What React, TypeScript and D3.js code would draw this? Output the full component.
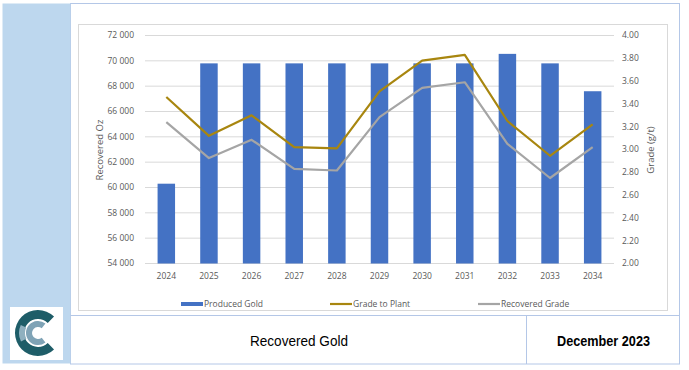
import React from 'react';
import * as d3 from 'd3';

const years = ['2024', '2025', '2026', '2027', '2028', '2029', '2030', '2031', '2032', '2033', '2034'];
const producedGold = [60300, 69800, 69800, 69800, 69800, 69800, 69800, 69800, 70550, 69800, 67600];
const gradeToPlant = [3.46, 3.12, 3.3, 3.02, 3.01, 3.51, 3.78, 3.83, 3.25, 2.945, 3.22];
const recoveredGrade = [3.24, 2.925, 3.085, 2.83, 2.816, 3.284, 3.54, 3.59, 3.05, 2.75, 3.02];
const ozTicks = [54000, 56000, 58000, 60000, 62000, 64000, 66000, 68000, 70000, 72000];
const gradeTicks = [2.0, 2.2, 2.4, 2.6, 2.8, 3.0, 3.2, 3.4, 3.6, 3.8, 4.0];

const BAR = '#4472c4';
const GOLD = '#a8860f';
const GREY = '#a5a5a5';
const TXT = '#595959';
const chartFont = '"Open Sans", "Liberation Sans", sans-serif';
const footFont = '"Liberation Sans", Arial, sans-serif';

const plot = {left: 145, right: 614, top: 35.5, bottom: 263.5};

const ozFmt = (v: number) => d3.format(',')(v).replace(/,/g, ' ');
const gradeFmt = d3.format('.2f');

const Logo = () => {
  const q = Math.PI / 2;
  const outer = d3.arc()({innerRadius: 14, outerRadius: 23, startAngle: q + 0.8, endAngle: q + 2 * Math.PI - 0.8}) as string;
  const wedge = d3.arc()({innerRadius: 13, outerRadius: 19, startAngle: 4.25, endAngle: 5.15}) as string;
  const inner = d3.arc()({innerRadius: 6, outerRadius: 12, startAngle: q + 0.9, endAngle: q + 2 * Math.PI - 0.9}) as string;
  return (
    <g>
      <rect x={10} y={307} width={53} height={53} fill="#fff" />
      <g transform="translate(38,333)">
        <path d={outer} fill="#1e5d68" />
        <path d={wedge} fill="#8fb0bf" />
        <path d={inner} fill="#7fa3b6" />
      </g>
    </g>
  );
};

export default function App() {
  const x = d3
    .scaleBand()
    .domain(years)
    .range([plot.left, plot.right])
    .paddingInner(0.59)
    .paddingOuter(0.295);
  const yOz = d3.scaleLinear().domain([54000, 72000]).range([plot.bottom, plot.top]);
  const yGrade = d3.scaleLinear().domain([2, 4]).range([plot.bottom, plot.top]);
  const cxOf = (i: number) => (x(years[i]) as number) + x.bandwidth() / 2;

  const line = (vals: number[]) =>
    d3
      .line<number>()
      .x((_, i) => cxOf(i))
      .y(v => yGrade(v))(vals) as string;

  return (
    <svg width={689} height={370} style={{position: 'absolute', left: 0, top: 0, background: '#fff'}}>
      <rect x={70.5} y={3.5} width={609} height={360.5} fill="#fff" stroke="#b4c7e7" strokeWidth={1} />
      <rect x={2.5} y={3.5} width={68} height={360} fill="#bdd7ee" />
      <line x1={70.5} x2={679.5} y1={315.5} y2={315.5} stroke="#b4c7e7" />
      <line x1={526.5} x2={526.5} y1={315.5} y2={364} stroke="#b4c7e7" />
      <rect x={78.5} y={24.5} width={589} height={286} fill="#fff" stroke="#d9d9d9" />

      {ozTicks.map(t => (
        <g key={t}>
          <line x1={plot.left} x2={plot.right} y1={yOz(t)} y2={yOz(t)} stroke="#d9d9d9" strokeWidth={1} />
          <text x={134} y={yOz(t)} dy="0.35em" textAnchor="end" fontSize={8.5} fill={TXT} fontFamily={chartFont}>
            {ozFmt(t)}
          </text>
        </g>
      ))}
      {gradeTicks.map(t => (
        <text key={t} x={622} y={yGrade(t)} dy="0.35em" fontSize={8.5} fill={TXT} fontFamily={chartFont}>
          {gradeFmt(t)}
        </text>
      ))}

      {producedGold.map((v, i) => (
        <rect
          key={years[i]}
          x={x(years[i])}
          y={yOz(v)}
          width={x.bandwidth()}
          height={plot.bottom - yOz(v)}
          fill={BAR}
        />
      ))}

      <path d={line(recoveredGrade)} fill="none" stroke={GREY} strokeWidth={2.2} strokeLinejoin="round" />
      <path d={line(gradeToPlant)} fill="none" stroke={GOLD} strokeWidth={2.2} strokeLinejoin="round" />

      {years.map((y, i) => (
        <text key={y} x={cxOf(i)} y={276} dy="0.35em" textAnchor="middle" fontSize={8.5} fill={TXT} fontFamily={chartFont}>
          {y}
        </text>
      ))}

      <text
        transform="translate(100,150) rotate(-90)"
        textAnchor="middle"
        dy="0.35em"
        fontSize={9.5}
        fill={TXT}
        fontFamily={chartFont}>
        Recovered Oz
      </text>
      <text
        transform="translate(651,150) rotate(-90)"
        textAnchor="middle"
        dy="0.35em"
        fontSize={9.5}
        fill={TXT}
        fontFamily={chartFont}>
        Grade (g/t)
      </text>

      <g fontSize={8.5} fill={TXT} fontFamily={chartFont}>
        <rect x={181} y={302} width={22} height={4} fill={BAR} />
        <text x={204} y={304} dy="0.35em">Produced Gold</text>
        <line x1={330} x2={352} y1={304} y2={304} stroke={GOLD} strokeWidth={2.2} />
        <text x={353} y={304} dy="0.35em">Grade to Plant</text>
        <line x1={478} x2={500} y1={304} y2={304} stroke={GREY} strokeWidth={2.2} />
        <text x={501} y={304} dy="0.35em">Recovered Grade</text>
      </g>

      <text
        x={250}
        y={341}
        dy="0.35em"
        fontSize={14}
        fill="#000"
        fontFamily={footFont}
        textLength={98}
        lengthAdjust="spacingAndGlyphs">
        Recovered Gold
      </text>
      <text
        x={557}
        y={341}
        dy="0.35em"
        fontSize={14}
        fontWeight="bold"
        fill="#000"
        fontFamily={footFont}
        textLength={93}
        lengthAdjust="spacingAndGlyphs">
        December 2023
      </text>

      <Logo />
    </svg>
  );
}
